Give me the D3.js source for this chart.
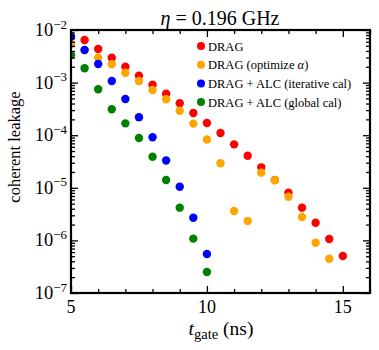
<!DOCTYPE html>
<html>
<head>
<meta charset="utf-8">
<script src="https://cdn.jsdelivr.net/npm/d3@7"></script>
<style>
body { margin: 0; background: #fff; }
text { font-family: "Liberation Serif", "DejaVu Serif", serif; fill: #000; }
</style>
</head>
<body>
<div id="chart"></div>
<script>
var width = 379,
height = 350,
margin = {top: 30, right: 9, bottom: 57, left: 71};

// gate times (ns)
var tDrag = [5.5, 6, 6.5, 7, 7.5, 8, 8.5, 9, 9.5, 10, 10.5, 11, 11.5, 12, 12.5, 13, 13.5, 14, 14.5, 15];
var leakDrag = [6.45e-3, 4.35e-3, 2.97e-3, 2.00e-3, 1.35e-3, 9.1e-4, 6.15e-4, 4.04e-4, 2.64e-4, 1.71e-4,
  1.10e-4, 6.7e-5, 4.07e-5, 2.45e-5, 1.41e-5, 8.07e-6, 4.19e-6, 2.17e-6, 1.06e-6, 5.05e-7];

var tOpt = [5, 5.5, 6, 6.5, 7, 7.5, 8, 8.5, 9, 9.5, 10, 10.5, 11, 11.5, 12, 12.5, 13, 13.5, 14, 14.5];
var leakOpt = [5.35e-3, 4.17e-3, 2.97e-3, 2.23e-3, 1.54e-3, 1.07e-3, 7.23e-4, 4.82e-4, 2.92e-4, 1.66e-4,
  8.28e-5, 2.92e-5, 3.62e-6, 2.34e-6, 1.94e-5, 1.39e-5, 6.78e-6, 2.79e-6, 9.04e-7, 4.49e-7];

var tAlc = [5, 5.5, 6, 6.5, 7, 7.5, 8, 8.5, 9, 9.5, 10];
var leakIter = [7.46e-3, 4.17e-3, 2.26e-3, 1.07e-3, 4.88e-4, 2.19e-4, 9.12e-5, 3.30e-5, 1.05e-5, 2.70e-6, 5.51e-7];
var leakGlobal = [3.35e-3, 1.87e-3, 7.46e-4, 3.11e-4, 1.68e-4, 8.85e-5, 3.90e-5, 1.41e-5, 4.19e-6, 1.08e-6, 2.51e-7];

var seriesNames = ["DRAG", "DRAG (optimize α)", "DRAG + ALC (iterative cal)", "DRAG + ALC (global cal)"];
var seriesColors = ["#ff0000", "#ffa500", "#0000ff", "#008000"];

var xTicks = [5, 10, 15];
var yExponents = [-2, -3, -4, -5, -6, -7];

var series = [
  {t: tDrag, v: leakDrag},
  {t: tOpt, v: leakOpt},
  {t: tAlc, v: leakIter},
  {t: tAlc, v: leakGlobal}
];

var w = width - margin.left - margin.right,
h = height - margin.top - margin.bottom;

var svg = d3.select("#chart").append("svg")
.attr("width", width)
.attr("height", height);

var g = svg.append("g")
.attr("transform", "translate(" + margin.left + "," + margin.top + ")");

var x = d3.scaleLinear().domain([5, 16]).range([0, w]);
var y = d3.scaleLog().domain([1e-7, 1e-2]).range([h, 0]);

g.append("clipPath").attr("id", "clip")
.append("rect").attr("width", w).attr("height", h);

// points
var plot = g.append("g").attr("clip-path", "url(#clip)");
series.forEach(function(s, i) {
  plot.selectAll(".s" + i)
  .data(s.t.map(function(t, j) { return [t, s.v[j]]; }))
  .enter().append("circle")
  .attr("cx", function(d) { return x(d[0]); })
  .attr("cy", function(d) { return y(d[1]); })
  .attr("r", 4.2)
  .style("fill", seriesColors[i]);
});

// ticks (inward, all sides)
var xMinor = d3.range(5, 17).filter(function(d) { return xTicks.indexOf(d) < 0; });
var yMajor = yExponents.map(function(e) { return Math.pow(10, e); });
var yMinor = [];
yExponents.slice(1).forEach(function(e) {
  d3.range(2, 10).forEach(function(m) { yMinor.push(m * Math.pow(10, e)); });
});

function tickAxis(axisFn, scale, vals, size, tr) {
  g.append("g")
  .attr("transform", tr)
  .call(axisFn(scale).tickValues(vals).tickSize(size).tickFormat(""))
  .call(function(a) {
    a.select(".domain").remove();
    a.selectAll("line").attr("stroke", "#000").attr("stroke-width", 1.3);
  });
}
tickAxis(d3.axisBottom, x, xTicks, -7, "translate(0," + h + ")");
tickAxis(d3.axisBottom, x, xMinor, -4, "translate(0," + h + ")");
tickAxis(d3.axisTop, x, xTicks, -7, "translate(0,0)");
tickAxis(d3.axisTop, x, xMinor, -4, "translate(0,0)");
tickAxis(d3.axisLeft, y, yMajor, -7, "translate(0,0)");
tickAxis(d3.axisLeft, y, yMinor, -4, "translate(0,0)");
tickAxis(d3.axisRight, y, yMajor, -7, "translate(" + w + ",0)");
tickAxis(d3.axisRight, y, yMinor, -4, "translate(" + w + ",0)");

// frame
g.append("rect")
.attr("width", w).attr("height", h)
.style("fill", "none").style("stroke", "#000").style("stroke-width", 2.2);

// tick labels
g.selectAll(".xl").data(xTicks).enter().append("text")
.attr("x", function(d) { return x(d); })
.attr("y", h + 20)
.attr("text-anchor", "middle")
.style("font-size", "18px")
.text(function(d) { return d; });

var yl = g.selectAll(".yl").data(yExponents).enter().append("text")
.attr("x", -4)
.attr("y", function(d) { return y(Math.pow(10, d)) + 6; })
.attr("text-anchor", "end")
.style("font-size", "18.5px");
yl.append("tspan").text("10");
yl.append("tspan").attr("dy", -7.5).style("font-size", "13px")
.text(function(d) { return "\u2212" + (-d); });

// title
var title = svg.append("text")
.attr("x", 220).attr("y", 25)
.attr("text-anchor", "middle")
.style("font-size", "20px");
title.append("tspan").style("font-style", "italic").text("η");
title.append("tspan").text(" = 0.196 GHz");

// axis labels
svg.append("text")
.attr("transform", "translate(20,147) rotate(-90)")
.attr("text-anchor", "middle")
.style("font-size", "16.5px")
.text("coherent leakage");

var xl = svg.append("text")
.attr("x", 221).attr("y", 335)
.attr("text-anchor", "middle")
.style("font-size", "19.5px");
xl.append("tspan").style("font-style", "italic").text("t");
xl.append("tspan").attr("dy", 4).style("font-size", "14.5px").text("gate");
xl.append("tspan").attr("dy", -4).text(" (ns)");

// legend
var leg = svg.append("g").attr("transform", "translate(201,46)");
var rows = leg.selectAll("g").data(seriesNames).enter().append("g")
.attr("transform", function(d, i) { return "translate(0," + (i * 18.7) + ")"; });
rows.append("circle").attr("r", 4).style("fill", function(d, i) { return seriesColors[i]; });
rows.append("text")
.attr("x", 7).attr("y", 4.5)
.style("font-size", "12.5px")
.each(function(d) {
  var t = d3.select(this);
  if (d.indexOf("α") >= 0) {
    t.append("tspan").text("DRAG (optimize ");
    t.append("tspan").style("font-style", "italic").text("α");
    t.append("tspan").text(")");
  } else {
    t.text(d);
  }
});
</script>
</body>
</html>
